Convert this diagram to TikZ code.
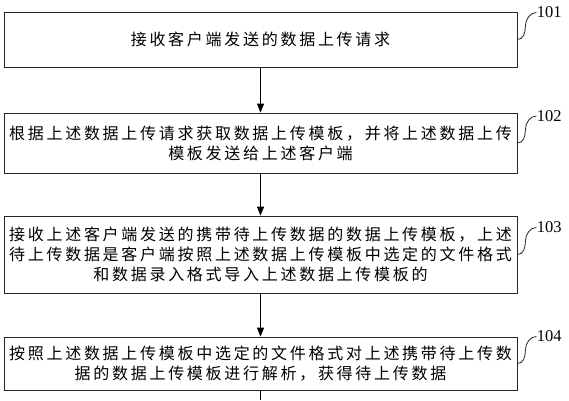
\documentclass[tikz,border=0pt]{standalone}
\usepackage{fontspec}
\setmainfont{Liberation Serif}
\newfontfamily\cjk{Noto Sans CJK SC}[LetterSpace=17]
\usetikzlibrary{arrows.meta}
\tikzset{
	stepbox/.style={rectangle, draw=black!85, line width=0.8pt, minimum width=513pt, inner sep=0pt, align=center, font=\cjk\fontsize{16}{20}\selectfont},
	steplabel/.style={anchor=west, inner sep=0pt, font=\fontsize{16.5}{16.5}\selectfont},
	squiggle/.style={draw=black!85, line width=0.8pt}
}
\begin{document}
\begin{tikzpicture}[x=1pt, y=-1pt, line width=0.8pt, >={Triangle[length=9pt,width=7pt]}]
			\useasboundingbox (0,0) rectangle (569,400);
			% steps
			\node[stepbox, minimum height=55pt] (s1) at (260.5,39.5) {接收客户端发送的数据上传请求};
			\node[stepbox, minimum height=60pt] (s2) at (260.5,143) {根据上述数据上传请求获取数据上传模板，并将上述数据上传\\模板发送给上述客户端};
			\node[stepbox, minimum height=77pt] (s3) at (260.5,254.5) {接收上述客户端发送的携带待上传数据的数据上传模板，上述\\待上传数据是客户端按照上述数据上传模板中选定的文件格式\\和数据录入格式导入上述数据上传模板的};
			\node[stepbox, minimum height=53pt] (s4) at (260.5,363.5) {按照上述数据上传模板中选定的文件格式对上述携带待上传数\\据的数据上传模板进行解析，获得待上传数据};
			\coordinate (tail) at (260.5,400);
			
			% step numbers
			\node[steplabel] (n1) at ([shift={(19,-27)}]s1.east) {101};
			\node[steplabel] (n2) at ([shift={(19,-27)}]s2.east) {102};
			\node[steplabel] (n3) at ([shift={(19,-27)}]s3.east) {103};
			\node[steplabel] (n4) at ([shift={(19,-27)}]s4.east) {104};
			
			% arrows
			\draw[->] (s1) -- (s2);
			\draw[->] (s2) -- (s3);
			\draw[->] (s3) -- (s4);
			\draw (s4) -- (tail);
			
			% hooks to the numbers
			\draw[squiggle] (s1.east) .. controls +(6,0) and +(0,7) .. ++(8,-13.5) .. controls +(0,-7) and +(-6,0) .. (n1.west);
			\draw[squiggle] (s2.east) .. controls +(6,0) and +(0,7) .. ++(8,-13.5) .. controls +(0,-7) and +(-6,0) .. (n2.west);
			\draw[squiggle] (s3.east) .. controls +(6,0) and +(0,7) .. ++(8,-13.5) .. controls +(0,-7) and +(-6,0) .. (n3.west);
			\draw[squiggle] (s4.east) .. controls +(6,0) and +(0,7) .. ++(8,-13.5) .. controls +(0,-7) and +(-6,0) .. (n4.west);
		\end{tikzpicture}
\end{document}
